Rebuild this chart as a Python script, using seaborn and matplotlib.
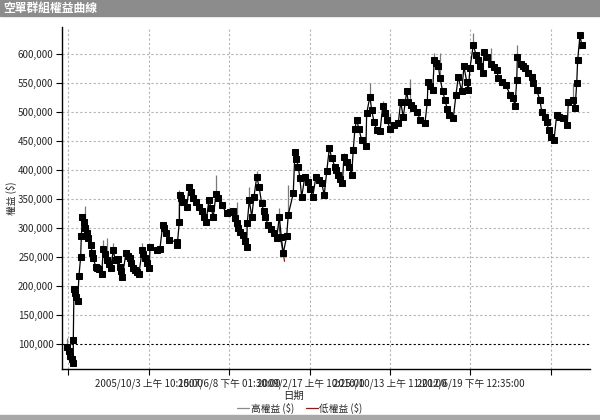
import numpy as np
import pandas as pd
import matplotlib
matplotlib.use("Agg")
import matplotlib.pyplot as plt
from matplotlib.patches import Rectangle
from matplotlib.lines import Line2D
from matplotlib.ticker import FuncFormatter
import seaborn as sns

# trade dates as day offsets from the first day of the chart
start_date = "2003-12-14"
trade_days = [40, 50, 62, 75, 86, 86, 91, 100, 110, 120, 129, 142, 147, 155, 165, 178, 190, 200,
              219, 230, 238, 257, 270, 284, 302, 315, 328, 340, 355, 371, 391, 404, 429, 442, 450, 459,
              487, 500, 518, 528, 538, 556, 570, 586, 611, 620, 632, 648, 665, 670, 721, 746, 767, 780,
              795, 815, 873, 878, 893, 895, 910, 925, 950, 969, 985, 1000, 1020, 1040, 1064, 1080, 1097,
              1119, 1135, 1152, 1173, 1190, 1216, 1254, 1280, 1304, 1318, 1330, 1342, 1355, 1381, 1395,
              1406, 1411, 1426, 1445, 1462, 1483, 1500, 1521, 1535, 1546, 1571, 1595, 1614, 1635, 1655,
              1670, 1685, 1711, 1723, 1761, 1774, 1785, 1799, 1812, 1825, 1850, 1876, 1890, 1909, 1934,
              1955, 1978, 1997, 2016, 2036, 2054, 2079, 2090, 2104, 2120, 2135, 2147, 2170, 2188, 2206,
              2218, 2231, 2244, 2260, 2282, 2315, 2320, 2345, 2358, 2376, 2396, 2422, 2442, 2458, 2473,
              2498, 2530, 2561, 2579, 2599, 2625, 2637, 2655, 2671, 2706, 2726, 2764, 2782, 2787, 2805,
              2823, 2835, 2850, 2866, 2879, 2899, 2917, 2935, 2949, 2980, 3000, 3018, 3044, 3061, 3082,
              3094, 3107, 3132, 3153, 3168, 3183, 3204, 3214, 3239, 3265, 3290, 3311, 3323, 3350, 3381,
              3412, 3437, 3450, 3463, 3468, 3493, 3510, 3526, 3551, 3577, 3589, 3615, 3640, 3653, 3675,
              3691, 3705, 3721, 3747, 3767, 3787, 3818, 3848, 3856, 3889, 3907, 3920, 3927, 3945, 3958]
equity_k = [95, 88, 80, 74, 68, 107, 195, 188, 182, 175, 218, 250, 286, 320, 310, 300, 292, 283,
            271, 258, 248, 234, 232, 229, 222, 265, 255, 245, 238, 232, 263, 245, 247, 234, 226, 216,
            257, 253, 248, 240, 231, 228, 225, 222, 263, 255, 248, 240, 231, 267, 263, 265, 306, 300,
            292, 279, 277, 271, 311, 357, 352, 346, 337, 372, 362, 352, 345, 337, 329, 320, 311,
            349, 335, 320, 359, 352, 340, 326, 328, 329, 318, 309, 300, 294, 288, 278,
            268, 309, 349, 320, 354, 389, 372, 343, 330, 320, 306, 298, 291, 283, 320,
            285, 257, 286, 323, 360, 432, 420, 406, 386, 354, 389, 380, 368, 354, 389,
            383, 378, 357, 398, 438, 421, 406, 400, 392, 385, 378, 423, 414, 406, 392,
            435, 472, 487, 472, 452, 441, 498, 527, 504, 484, 470, 467, 510, 498, 487,
            472, 478, 481, 518, 492, 536, 518, 512, 507, 501, 487, 481, 518, 553, 545,
            538, 590, 585, 579, 559, 536, 521, 505, 495, 490, 530, 561, 536, 579, 553,
            538, 576, 616, 599, 590, 579, 567, 604, 596, 584, 578, 573, 559, 553, 547,
            530, 524, 510, 556, 596, 584, 580, 576, 567, 561, 550, 538, 521, 501, 492,
            484, 470, 458, 452, 495, 492, 490, 478, 518, 521, 507, 550, 590, 633, 616]

# high equity spikes (gray) and low equity dip (dark red)
high_days = [40, 175, 315, 340, 391, 429, 611, 893, 1173, 1330, 1426, 1483, 1655, 1723, 2147,
             2345, 2442, 2498, 2650, 2835, 2879, 3132, 3265, 3468, 3889]
high_k = [111, 338, 280, 283, 275, 252, 275, 366, 392, 345, 372, 399, 335, 375, 430,
          550, 520, 498, 558, 602, 603, 637, 610, 616, 550]
low_days = [1650, 1665, 1680, 1695]
low_k = [310, 282, 262, 243]

tick_dates = ["2005-10-03", "2007-06-08", "2009-02-17", "2010-10-13", "2012-06-19"]
tick_labels = ["2005/10/3 上午 10:15:00", "2007/6/8 下午 01:30:00", "2009/2/17 上午 10:25:00",
               "2010/10/13 上午 11:20:00", "2012/6/19 下午 12:35:00"]

sns.set_style("white")
plt.rcParams['font.family'] = ['Noto Sans CJK TC', 'DejaVu Sans']

base = pd.Timestamp(start_date)
df = pd.DataFrame({
    "date": base + pd.to_timedelta(trade_days, unit="D"),
    "equity": np.array(equity_k) * 1000,
})
hi = pd.DataFrame({"date": base + pd.to_timedelta(high_days, unit="D"),
                   "high": np.array(high_k) * 1000})
hi["base"] = np.interp(high_days, trade_days, df["equity"])
lo = pd.DataFrame({"date": base + pd.to_timedelta(low_days, unit="D"),
                   "low": np.array(low_k) * 1000})

fig = plt.figure(figsize=(6, 4.2), dpi=100)
ax = fig.add_axes([62 / 600, 1 - 369 / 420, 528 / 600, 342 / 420])

ax.vlines(hi["date"], hi["base"], hi["high"], color="#7a7a7a", lw=0.9, zorder=2)
sns.lineplot(data=lo, x="date", y="low", color="#8b1a1a", lw=0.9, ax=ax, zorder=2,
             estimator=None, sort=False)
sns.lineplot(data=df, x="date", y="equity", color="black", lw=0.9, marker="s", ms=3.7,
             mec="black", mfc="black", ax=ax, zorder=3, estimator=None, sort=False)

# axes ranges and ticks
ax.set_xlim(base, base + pd.Timedelta(days=4021))
ax.set_ylim(57400, 647000)
yt = np.arange(100000, 600001, 50000)
ax.set_yticks(yt)
ax.yaxis.set_major_formatter(FuncFormatter(lambda v, p: f"{int(v):,}"))
tick_pos = list(pd.to_datetime(tick_dates))
all_ticks = [pd.Timestamp(tick_pos[0]) - pd.Timedelta(days=613)] + tick_pos + \
            [pd.Timestamp(tick_pos[-1]) + pd.Timedelta(days=613)]
ax.set_xticks(all_ticks)
ax.set_xticklabels([""] + tick_labels + [""])

ax.tick_params(axis="both", which="major", labelsize=7, length=4, width=0.8,
               color="black", direction="out", bottom=True, left=True, pad=2)
ax.tick_params(axis="x", pad=3)

for s in ["top", "right"]:
    ax.spines[s].set_visible(False)
for s in ["left", "bottom"]:
    ax.spines[s].set_color("black")
    ax.spines[s].set_linewidth(1.0)

# grid
for y in yt:
    if y == 100000:
        ax.axhline(y, color="black", lw=0.8, ls=(0, (2, 2)), zorder=1)
    else:
        ax.axhline(y, color="#b4b4b4", lw=0.8, ls=(0, (2, 2)), zorder=1)
for t in all_ticks:
    ax.axvline(t, color="#b4b4b4", lw=0.8, ls=(0, (2, 2)), zorder=1)

ax.set_xlabel("")
ax.set_ylabel("權益 ($)", fontsize=7)
ax.yaxis.set_label_coords(-0.085, 0.5)
fig.text(294 / 600, 1 - 396 / 420, "日期", fontsize=7.5, ha="center", va="center")

handles = [Line2D([], [], color="#8a8a8a", lw=0.9), Line2D([], [], color="#8b1a1a", lw=0.9)]
fig.legend(handles, ["高權益 ($)", "低權益 ($)"], loc="center", ncol=2,
           bbox_to_anchor=(300 / 600, 1 - 408 / 420), frameon=False, fontsize=7,
           handlelength=1.2, handletextpad=0.2, columnspacing=1.2, borderaxespad=0)

# title bar and bottom band
fig.patches.append(Rectangle((0, 1 - 16 / 420), 1, 16 / 420, transform=fig.transFigure,
                             color="#8c8c8c", zorder=0))
fig.patches.append(Rectangle((0, 0), 1, 5 / 420, transform=fig.transFigure,
                             color="#a8a8a8", zorder=0))
fig.text(3 / 600, 1 - 8 / 420, "空單群組權益曲線", color="white", fontsize=8.5,
         fontweight="bold", ha="left", va="center")

fig.savefig("out.png", dpi=100)
